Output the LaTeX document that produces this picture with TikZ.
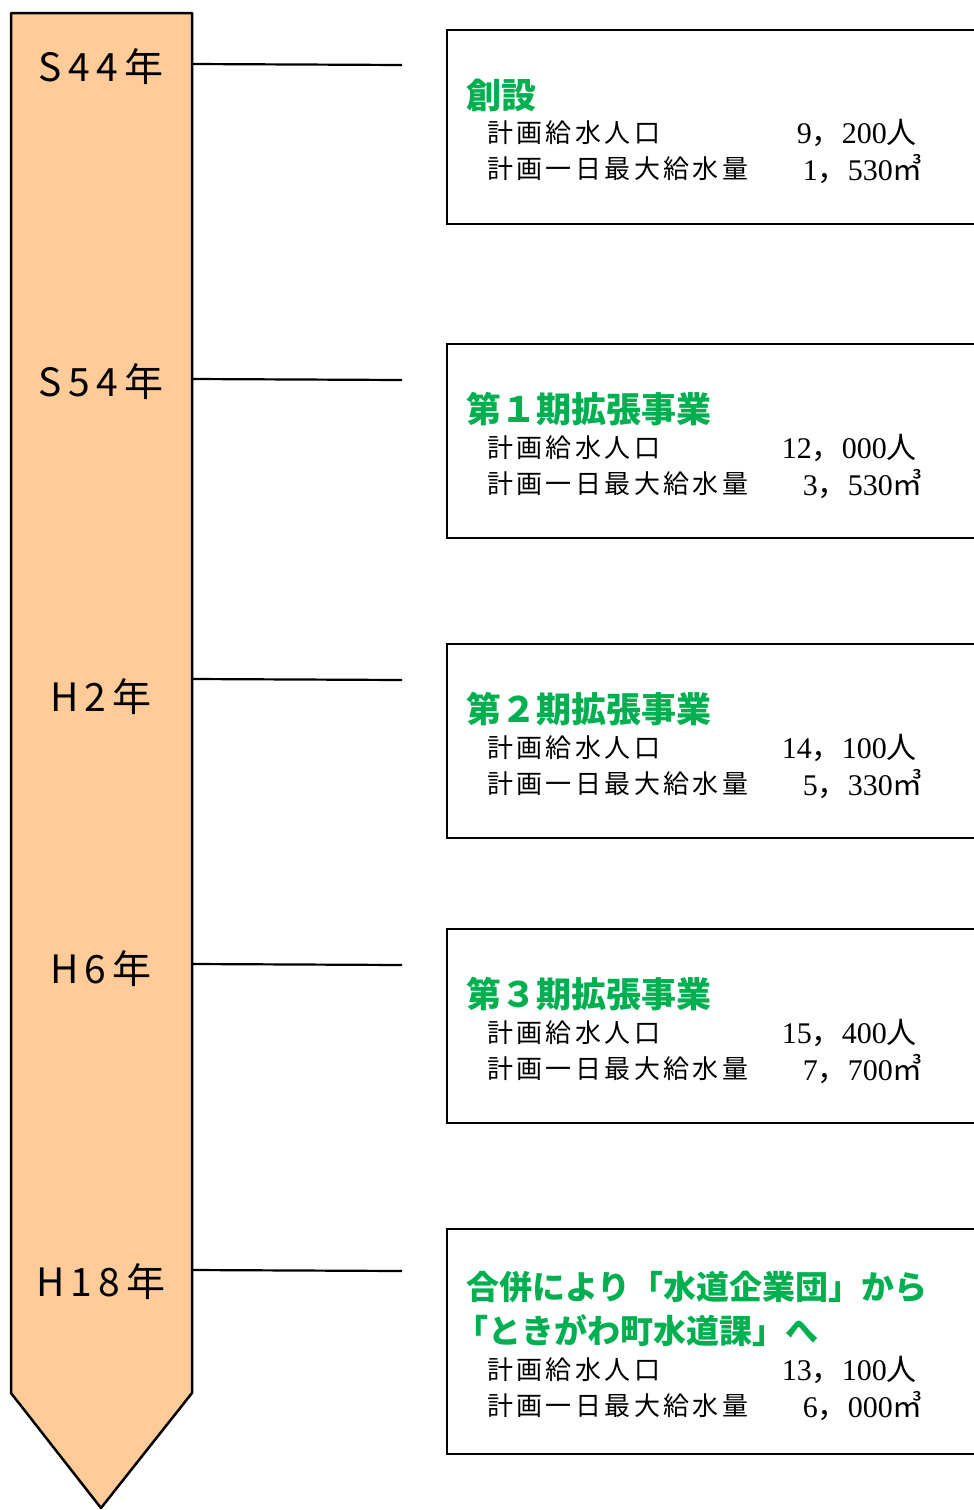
\documentclass[tikz,border=0pt]{standalone}
\usepackage{fontspec}
\setmainfont{Noto Sans CJK JP}
\newfontfamily\jp{Noto Sans CJK JP}
\newfontfamily\jpbody[LetterSpace=13]{Noto Sans CJK JP}
\newfontfamily\yearfont[LetterSpace=16]{Noto Sans CJK JP}
\newfontfamily\numfont{Liberation Serif}
\definecolor{peach}{HTML}{FFCC99}
\definecolor{titlegreen}{HTML}{00B050}
\newcommand{\cubic}{{\jp ㎥}}
\newcommand{\cm}{{\jp ，}}
\tikzset{
  yearlbl/.style={font=\yearfont\fontsize{39}{40}\selectfont, anchor=center, inner sep=0},
  planbox/.style={draw, line width=2.2, minimum width=560, minimum height=194, anchor=north west, inner sep=0},
  ttl/.style={font=\jp\bfseries\fontsize{35}{42}\selectfont, text=titlegreen, anchor=west, inner sep=0, align=left},
  ttlsmall/.style={ttl, font=\jp\bfseries\fontsize{33}{42}\selectfont},
  body/.style={font=\jpbody\fontsize{26}{28}\selectfont, anchor=west, inner sep=0},
  val/.style={font=\numfont\fontsize{30}{30}\selectfont, anchor=east, inner sep=0},
  conn/.style={line width=2.2}
}
\begin{document}
\begin{tikzpicture}[x=1pt,y=-1pt]
\useasboundingbox (0,0) rectangle (974,1510);
% timeline arrow
\draw[line width=2.5, fill=peach, line join=round] (11,13) -- (192,13) -- (192,1393) -- (101,1508) -- (11,1393) -- cycle;
\node[yearlbl] (y1) at (101,67) {S44年};
\node[yearlbl] (y2) at (101,382) {S54年};
\node[yearlbl] (y3) at (101,697) {H2年};
\node[yearlbl] (y4) at (101,969) {H6年};
\node[yearlbl] (y5) at (101,1282) {H18年};
% connector coordinates
\coordinate (a1) at (192,64);   \coordinate (e1) at (402,65);
\coordinate (a2) at (192,379);  \coordinate (e2) at (402,380);
\coordinate (a3) at (192,679);  \coordinate (e3) at (402,680);
\coordinate (a4) at (192,964);  \coordinate (e4) at (402,965);
\coordinate (a5) at (192,1270); \coordinate (e5) at (402,1271);
\foreach \i in {1,...,5} \draw[conn] (a\i) -- (e\i);
% boxes
\node[planbox] (b1) at (446,29) {};
\node[planbox] (b2) at (446,343) {};
\node[planbox] (b3) at (446,643) {};
\node[planbox] (b4) at (446,928) {};
\node[planbox, minimum height=225] (b5) at (446,1228) {};
% box 1
\node[ttl] (t1) at (466,95) {創設};
\node[body] (p1) at (487,133) {計画給水人口};
\node[body] (q1) at (487,169) {計画一日最大給水量};
\node[val] (pv1) at (917,133) {9\cm200{\jp 人}};
\node[val] (qv1) at (923,169) {1\cm530\cubic};
% box 2
\node[ttl] (t2) at (466,409) {第１期拡張事業};
\node[body] (p2) at (487,448) {計画給水人口};
\node[body] (q2) at (487,484) {計画一日最大給水量};
\node[val] (pv2) at (917,448) {12\cm000{\jp 人}};
\node[val] (qv2) at (923,484) {3\cm530\cubic};
% box 3
\node[ttl] (t3) at (466,709) {第２期拡張事業};
\node[body] (p3) at (487,748) {計画給水人口};
\node[body] (q3) at (487,784) {計画一日最大給水量};
\node[val] (pv3) at (917,748) {14\cm100{\jp 人}};
\node[val] (qv3) at (923,784) {5\cm330\cubic};
% box 4
\node[ttl] (t4) at (466,994) {第３期拡張事業};
\node[body] (p4) at (487,1033) {計画給水人口};
\node[body] (q4) at (487,1069) {計画一日最大給水量};
\node[val] (pv4) at (917,1033) {15\cm400{\jp 人}};
\node[val] (qv4) at (923,1069) {7\cm700\cubic};
% box 5
\node[ttlsmall] (t5a) at (466,1287) {合併により「水道企業団」から};
\node[ttlsmall] (t5b) at (455,1331) {「ときがわ町水道課」へ};
\node[body] (p5) at (487,1370) {計画給水人口};
\node[body] (q5) at (487,1406) {計画一日最大給水量};
\node[val] (pv5) at (917,1370) {13\cm100{\jp 人}};
\node[val] (qv5) at (923,1406) {6\cm000\cubic};
\end{tikzpicture}
\end{document}
